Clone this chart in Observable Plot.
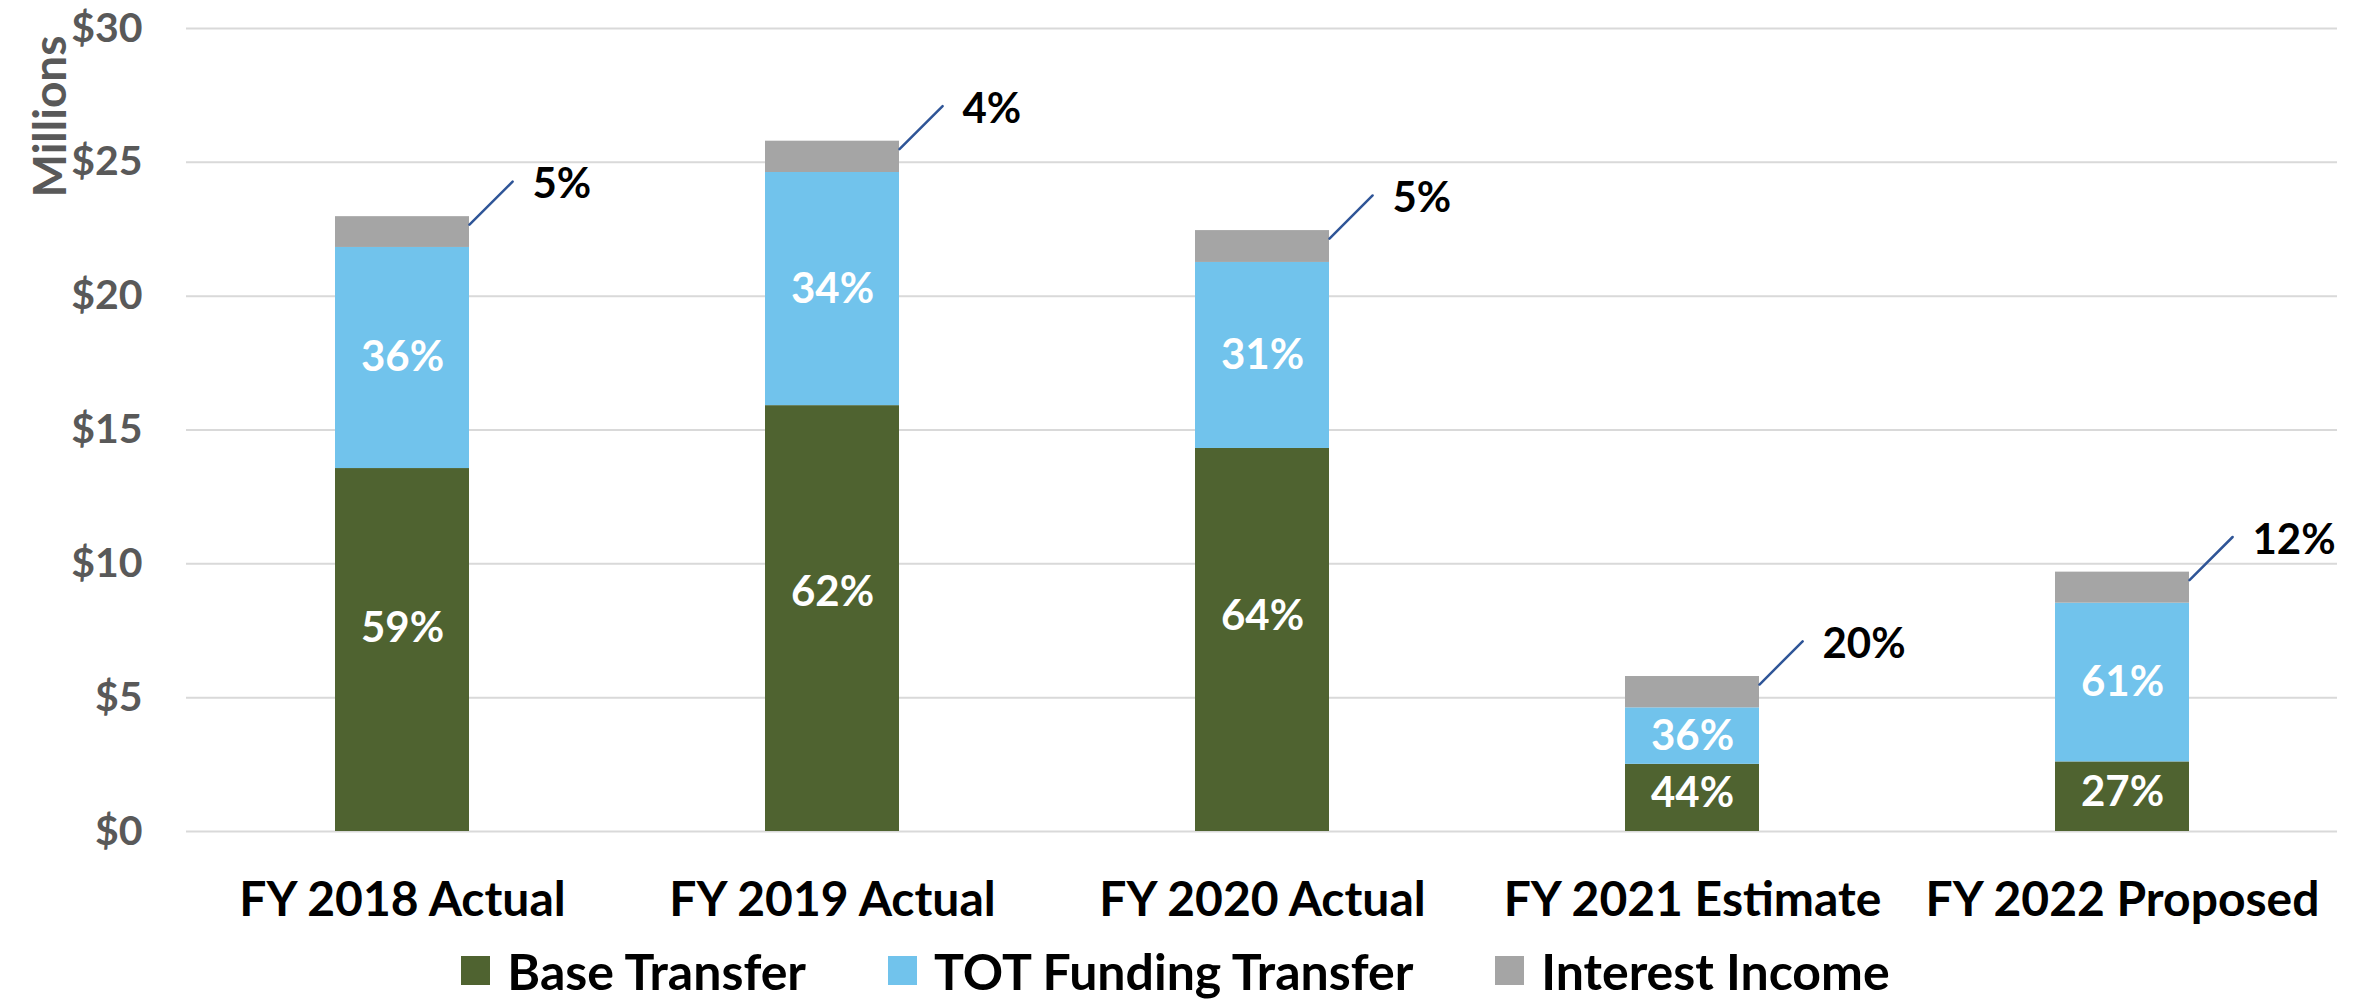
<!DOCTYPE html>
<html><head><meta charset="utf-8">
<script src="https://cdn.jsdelivr.net/npm/d3@7"></script>
<script src="https://cdn.jsdelivr.net/npm/@observablehq/plot@0.6"></script>
<style>
html,body{margin:0;padding:0;background:#fff;}
body{width:2361px;height:1001px;overflow:hidden;font-family:Lato,"Open Sans",sans-serif;}
#legend{display:flex;justify-content:center;align-items:center;font-weight:bold;font-size:50px;color:#000;height:61px;line-height:1;padding-right:10px;}
.item{display:flex;align-items:center;margin:0 41px;}
.sw{width:29px;height:29px;margin-right:17px;}
</style></head><body><div id="chart"></div><div id="legend"></div>
<script>
const categories = ["FY 2018 Actual","FY 2019 Actual","FY 2020 Actual","FY 2021 Estimate","FY 2022 Proposed"];
const series = ["Base Transfer","TOT Funding Transfer","Interest Income"];
const baseTransfer = [13.56,15.91,14.31,2.51,2.60];
const totTransfer = [8.26,8.71,6.95,2.11,5.93];
const interestIncome = [1.15,1.17,1.19,1.17,1.16];
const basePct = [59,62,64,44,27];
const totPct = [36,34,31,36,61];
const interestPct = [5,4,5,20,12];
const yTicks = [0,5,10,15,20,25,30];
const colors = ["#4F6330","#71C3EC","#A5A5A5"];

const valuesBySeries = [baseTransfer, totTransfer, interestIncome];
const rows = categories.flatMap((c,i) => series.map((s,j) => ({cat:c, series:s, value:valuesBySeries[j][i]})));
const inside = categories.flatMap((c,i) => [
  {cat:c, y: baseTransfer[i]*0.56, text: basePct[i]+"%"},
  {cat:c, y: baseTransfer[i] + totTransfer[i]/2, text: totPct[i]+"%"}
]);
const outside = categories.map((c,i) => ({cat:c, total: baseTransfer[i]+totTransfer[i]+interestIncome[i], text: interestPct[i]+"%"}));

const chart = Plot.plot({
  width: 2361, height: 940,
  marginTop: 28, marginBottom: 109, marginLeft: 186, marginRight: 24,
  style: {fontFamily: "Lato, 'Open Sans', sans-serif", fontWeight: "bold", background: "#fff"},
  x: {domain: categories, paddingInner: 0.6885, paddingOuter: 0.34425, label: null},
  y: {domain: [0,30], label: null},
  color: {domain: series, range: colors},
  marks: [
    Plot.ruleY(yTicks, {stroke: "#D9D9D9", strokeWidth: 2}),
    Plot.barY(rows, {x: "cat", y: "value", fill: "series"}),
    Plot.text(inside, {x: "cat", y: "y", text: "text", fill: "white", fontSize: 42, fontWeight: "bold"}),
    Plot.vector(outside, {x: "cat", y: "total", length: 61, rotate: 45, anchor: "start", r: 0, stroke: "#2F5597", strokeWidth: 2.5, dx: 67, dy: 8}),
    Plot.text(outside, {x: "cat", y: "total", text: "text", textAnchor: "start", dx: 130, dy: -32, fill: "black", fontSize: 42, fontWeight: "bold"}),
    Plot.axisY({ticks: yTicks, tickFormat: d => "$" + d, tickSize: 0, tickPadding: 44, fontSize: 41, color: "#595959", label: null}),
    Plot.axisX({tickSize: 0, tickPadding: 50, fontSize: 48, color: "#000", label: null}),
    Plot.text(["Millions"], {frameAnchor: "top-left", rotate: -90, dx: -153, dy: 88, fontSize: 46, fill: "#595959", textAnchor: "middle"})
  ]
});
document.getElementById("chart").appendChild(chart);

const legend = d3.select("#legend");
series.forEach((s,j) => {
  const item = legend.append("div").attr("class","item");
  item.append("div").attr("class","sw").style("background", colors[j]);
  item.append("span").text(s);
});
</script>
</body></html>
